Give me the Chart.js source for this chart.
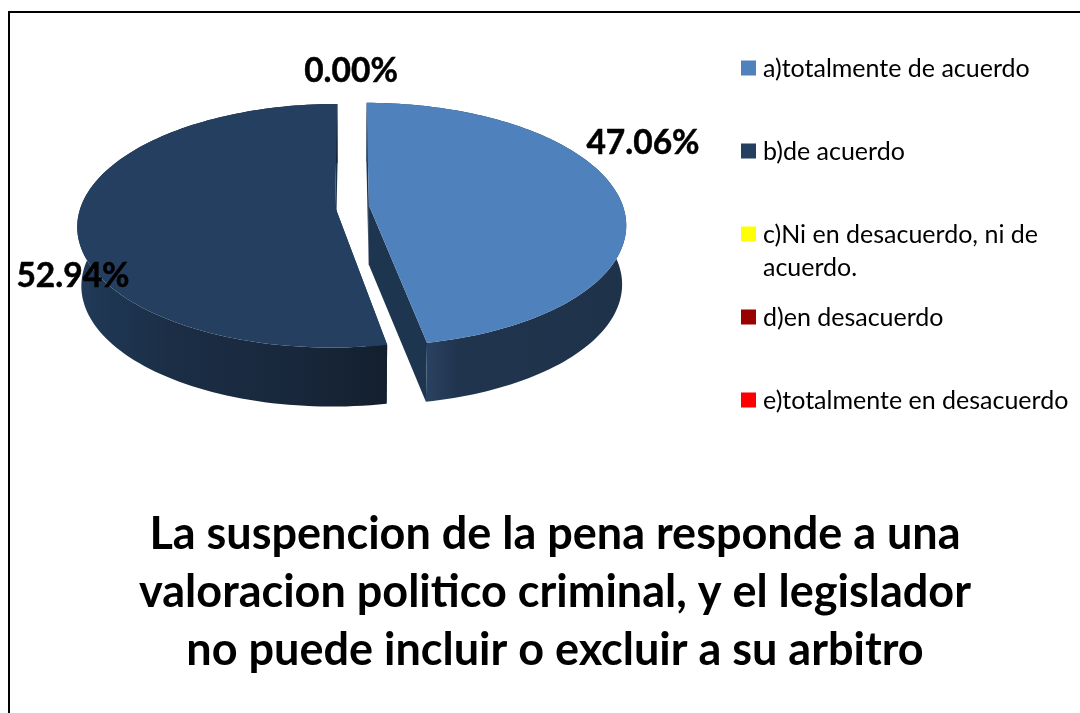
<!DOCTYPE html>
<html>
<head>
<meta charset="utf-8">
<title>La suspencion de la pena</title>
<script src="https://cdn.jsdelivr.net/npm/chart.js@4"></script>
<style>
  html, body { margin: 0; padding: 0; background: #fff; overflow: hidden; }
  #wrap { position: relative; width: 1080px; height: 713px; }
  #frame { position: absolute; left: 8px; top: 11px; width: 1072px; height: 702px;
           border-top: 2px solid #000; border-left: 2px solid #000; box-sizing: border-box; }
  canvas { position: absolute; left: 0; top: 0; }
</style>
</head>
<body>
<div id="wrap">
  <canvas id="pie" width="1080" height="713"></canvas>
  <div id="frame"></div>
</div>
<script>
// data
const categories = [
  "a)totalmente de acuerdo",
  "b)de acuerdo",
  ["c)Ni en desacuerdo, ni de", "acuerdo."],
  "d)en desacuerdo",
  "e)totalmente en desacuerdo",
];
const percentages = [47.06, 52.94, 0, 0, 0];
const labelledSlices = 3; // the source only labels the first three
const titleLines = [
  "La suspencion de la pena responde a una",
  "valoracion politico criminal, y el legislador",
  "no puede incluir o excluir a su arbitro",
];
const sliceColors = ["#4f81bd", "#243f60", "#ffff00", "#990000", "#ff0000"];

// 3d look
const view = { cy: 206, tilt: 0.467, persp: 0.156, depth: 59, shrink: 0.015 };
const rimStops = [
  [[0, "#2a4262"], [0.15, "#20344e"], [1, "#1e3249"]],
  [[0, "#203a58"], [0.3, "#1b2e46"], [0.75, "#18263a"], [1, "#131f2d"]],
];
const cutColor = "#1e3550";
const valueLabelAt = [[643, 143], [73, 276], [351, 71]];
const legendBox = { x: 741, textX: 763, size: 15, rows: [68, 151, 234, 317, 400], lineGap: 33, textDy: 1 };

function project(arc, dx, dy, z) {
  const R = arc.outerRadius;
  const s = 1 / (1 - view.persp * dy / R);
  return [arc.x + dx * s * (1 - view.shrink * z), view.cy + view.tilt * dy * s + view.depth * z];
}

const pie3d = {
  id: "pie3d",
  afterLayout(chart) {
    // title is centred at x=555 in the source, across the whole width
    chart.titleBlock.left = 30;
    chart.titleBlock.right = 1080;
  },
  beforeDatasetDraw(chart, args) {
    const ctx = chart.ctx;
    const arcs = args.meta.data;
    arcs.forEach((arc, i) => {
      if (arc.circumference <= 0) return;
      const R = arc.outerRadius;
      const a0 = arc.startAngle, a1 = arc.endAngle;
      const mid = (a0 + a1) / 2;
      const ox = Math.cos(mid) * arc.options.offset;
      const oy = Math.sin(mid) * arc.options.offset;
      const edge = (a, z) => project(arc, ox + R * Math.cos(a), oy + R * Math.sin(a), z);
      const apex = (z) => project(arc, ox, oy, z);
      const poly = (pts, fill) => {
        ctx.beginPath();
        pts.forEach((p, n) => (n ? ctx.lineTo(p[0], p[1]) : ctx.moveTo(p[0], p[1])));
        ctx.closePath();
        ctx.fillStyle = fill;
        ctx.fill();
      };

      // cut faces
      [a0, a1].forEach((a) => {
        poly([apex(0), edge(a, 0), edge(a, 1), apex(1)], cutColor);
      });

      // rim
      const top = [], bottom = [];
      const steps = 120;
      for (let n = 0; n <= steps; n++) {
        const a = a0 + ((a1 - a0) * n) / steps;
        top.push(edge(a, 0));
        bottom.unshift(edge(a, 1));
      }
      const xs = top.filter((p, n) => Math.sin(a0 + ((a1 - a0) * n) / steps) > 0).map((p) => p[0]);
      const grad = ctx.createLinearGradient(Math.min(...xs), 0, Math.max(...xs), 0);
      rimStops[i].forEach((s) => grad.addColorStop(s[0], s[1]));
      poly(top.concat(bottom), grad);

      // top face
      poly([apex(0)].concat(top), arc.options.backgroundColor);
    });
    return false; // the default flat arcs are replaced
  },
  afterDatasetsDraw(chart) {
    const ctx = chart.ctx;
    ctx.save();
    ctx.fillStyle = "#000";
    ctx.strokeStyle = "#000";
    ctx.lineWidth = 0.5;
    ctx.textBaseline = "middle";

    ctx.font = "bold 33.5px Lato";
    ctx.textAlign = "center";
    percentages.slice(0, labelledSlices).forEach((value, i) => {
      const at = valueLabelAt[i];
      const text = value.toFixed(2) + "%";
      ctx.fillText(text, at[0], at[1]);
      ctx.strokeText(text, at[0], at[1]);
    });

    ctx.font = "25px Lato";
    ctx.textAlign = "left";
    categories.forEach((label, i) => {
      const y = legendBox.rows[i];
      ctx.fillStyle = sliceColors[i];
      ctx.fillRect(legendBox.x, y - legendBox.size / 2, legendBox.size, legendBox.size);
      ctx.fillStyle = "#000";
      [].concat(label).forEach((line, n) => {
        ctx.fillText(line, legendBox.textX, y + legendBox.textDy + n * legendBox.lineGap);
      });
    });
    ctx.restore();
  },
};

new Chart(document.getElementById("pie"), {
  type: "pie",
  data: {
    labels: categories,
    datasets: [
      {
        data: percentages,
        backgroundColor: sliceColors,
        borderWidth: 0,
        offset: 17,
        radius: 254,
      },
    ],
  },
  options: {
    responsive: false,
    animation: false,
    layout: { padding: { left: 0, right: 376 } },
    plugins: {
      legend: { display: false },
      tooltip: { enabled: false },
      title: {
        display: true,
        text: titleLines,
        position: "bottom",
        color: "#000",
        font: { family: "Lato", size: 45, weight: "bold", lineHeight: 1.29 },
        padding: { top: 0, bottom: 33 },
      },
    },
  },
  plugins: [pie3d],
});
</script>
</body>
</html>
